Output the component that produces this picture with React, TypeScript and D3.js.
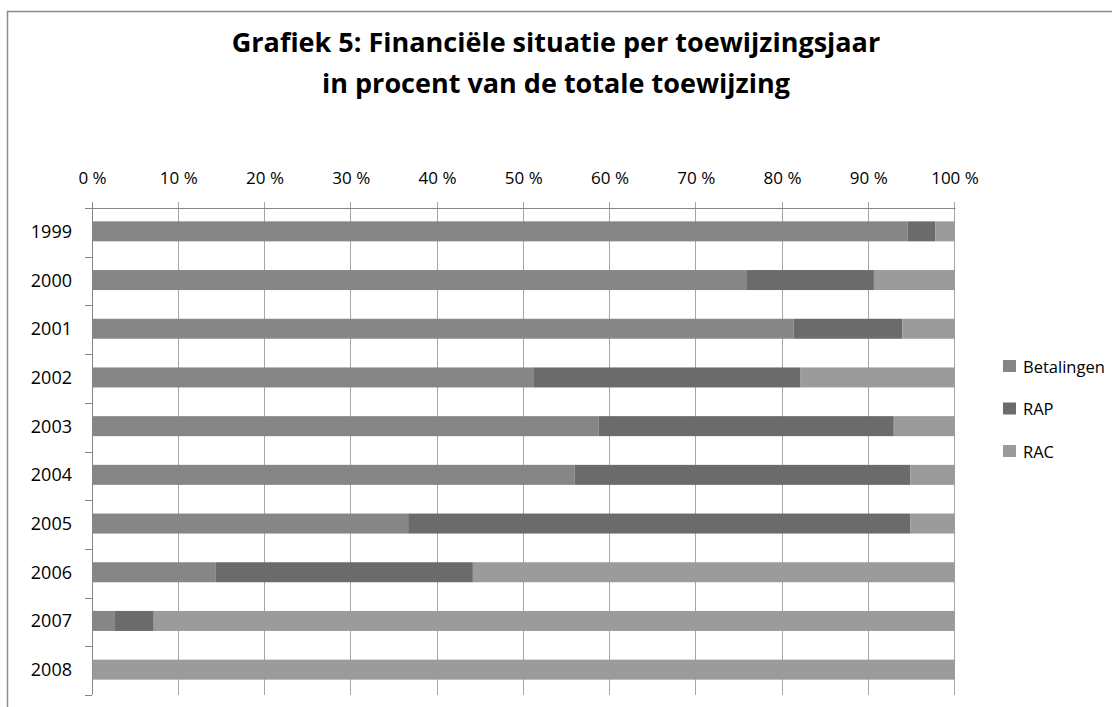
import React from "react";
import * as d3 from "d3";

const years = ["1999", "2000", "2001", "2002", "2003", "2004", "2005", "2006", "2007", "2008"];
const betalingen = [94.5, 75.8, 81.3, 51.1, 58.7, 55.9, 36.6, 14.3, 2.6, 0];
const rap = [3.2, 14.8, 12.6, 31.0, 34.2, 38.9, 58.2, 29.8, 4.5, 0];
const rac = [2.3, 9.4, 6.1, 17.9, 7.1, 5.2, 5.2, 55.9, 92.9, 100];
const seriesNames = ["Betalingen", "RAP", "RAC"];
const seriesColors = ["#868686", "#6b6b6b", "#9b9b9b"];
const xTicks = [0, 10, 20, 30, 40, 50, 60, 70, 80, 90, 100];
const titleLines = ["Grafiek 5: Financiële situatie per toewijzingsjaar", "in procent van de totale toewijzing"];

const FONT = "'Open Sans', sans-serif";

export default function App() {
  const W = 1112, H = 707;
  const x = d3.scaleLinear().domain([0, 100]).range([92.5, 955]);
  const y = d3.scaleBand<string>().domain(years).range([208, 695]).paddingInner(0).paddingOuter(0);
  const barH = 20;

  const rows = years.map((yr, i) => ({ year: yr, Betalingen: betalingen[i], RAP: rap[i], RAC: rac[i] }));
  const stack = d3.stack<any>().keys(seriesNames);
  const stacked = stack(rows);

  const boundaries = d3.range(years.length + 1).map((i) => 208 + i * y.step());

  return (
    <svg width={W} height={H} style={{ position: "absolute", left: 0, top: 0, background: "#fff" }}>
      <rect x={7.5} y={11.5} width={W + 20} height={H + 20} fill="#fff" stroke="#8c8c8c" strokeWidth={1.5} />
      {titleLines.map((t, i) => (
        <text key={i} x={556} y={52 + i * 41} textAnchor="middle" fontFamily={FONT} fontWeight="bold" fontSize={27} fill="#000">
          {t}
        </text>
      ))}
      {/* gridlines and top ticks */}
      {xTicks.map((t) => (
        <line key={"g" + t} x1={Math.round(x(t)) - 0.5} x2={Math.round(x(t)) - 0.5} y1={202} y2={695} stroke={t === 0 ? "#868686" : "#a6a6a6"} strokeWidth={1} />
      ))}
      {xTicks.map((t) => (
        <text key={"t" + t} x={x(t)} y={184} textAnchor="middle" fontFamily={FONT} fontSize={17} fill="#000">
          {t + " %"}
        </text>
      ))}
      {/* top axis line */}
      <line x1={85} x2={955.5} y1={208.5} y2={208.5} stroke="#868686" strokeWidth={1} />
      {/* left ticks */}
      {boundaries.map((b, i) => (
        <line key={"lt" + i} x1={85} x2={92} y1={Math.round(b) + 0.5} y2={Math.round(b) + 0.5} stroke="#868686" strokeWidth={1} />
      ))}
      {/* bars */}
      {stacked.map((s, si) => (
        <g key={s.key} fill={seriesColors[si]}>
          {s.map((d, i) => (
            <rect
              key={i}
              x={x(d[0])}
              width={Math.max(0, x(d[1]) - x(d[0]))}
              y={(y(years[i]) as number) + y.bandwidth() / 2 - barH / 2 - 1}
              height={barH}
            />
          ))}
        </g>
      ))}
      {/* category labels */}
      {years.map((yr) => (
        <text key={yr} x={72} y={(y(yr) as number) + y.bandwidth() / 2 - 1} dy="0.36em" textAnchor="end" fontFamily={FONT} fontSize={18} fill="#000">
          {yr}
        </text>
      ))}
      {/* legend */}
      {seriesNames.map((n, i) => (
        <g key={n}>
          <rect x={1003} y={360 + i * 42.5} width={13} height={12} fill={seriesColors[i]} />
          <text x={1023} y={372.5 + i * 42.5} fontFamily={FONT} fontSize={16.5} fill="#000">
            {n}
          </text>
        </g>
      ))}
    </svg>
  );
}
